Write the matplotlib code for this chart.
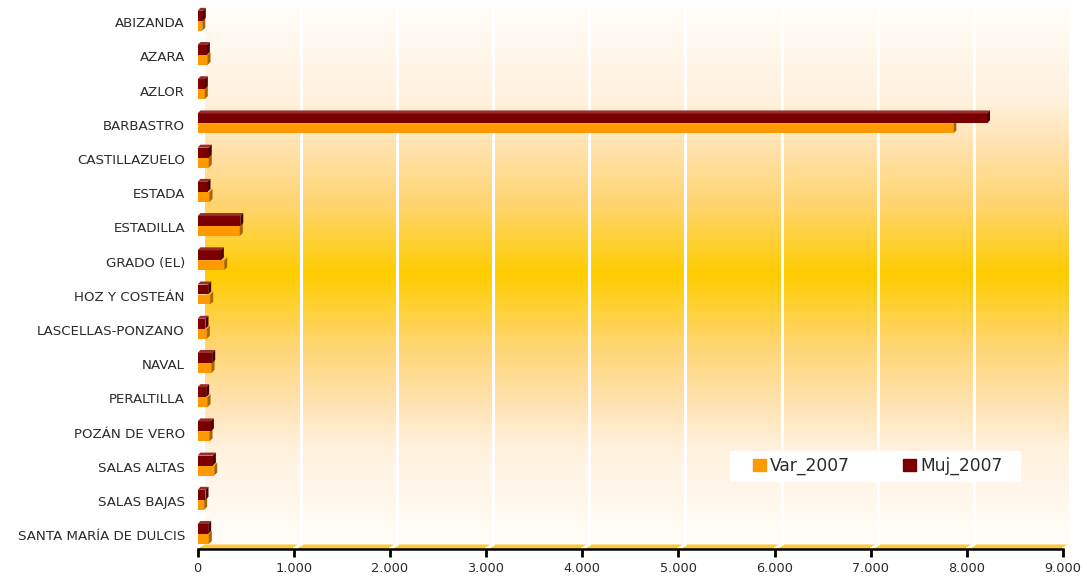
import numpy as np
import matplotlib
matplotlib.use("Agg")
import matplotlib.pyplot as plt
import matplotlib.patches as mpatches
from matplotlib.colors import LinearSegmentedColormap
from matplotlib.ticker import FuncFormatter

# ---------------------------------------------------------------------------
# Data
# ---------------------------------------------------------------------------
municipios = ["ABIZANDA", "AZARA", "AZLOR", "BARBASTRO", "CASTILLAZUELO",
              "ESTADA", "ESTADILLA", "GRADO (EL)", "HOZ Y COSTEÁN",
              "LASCELLAS-PONZANO", "NAVAL", "PERALTILLA", "POZÁN DE VERO",
              "SALAS ALTAS", "SALAS BAJAS", "SANTA MARÍA DE DULCIS"]
var_2007 = [50, 104, 76, 7860, 117, 125, 440, 278, 132, 97, 146, 104, 125, 174, 69, 118]
muj_2007 = [55, 97, 76, 8210, 117, 104, 445, 243, 111, 83, 153, 90, 139, 160, 83, 111]
x_ticks = list(range(0, 9001, 1000))

# ---------------------------------------------------------------------------
# Styling / geometry (pixels)
# ---------------------------------------------------------------------------
W, H, DPI = 1087, 585, 100
AX_L, AX_R, AX_T, AX_B = 197.5, 1063, 5, 549
XMAX = 9000
YLIM = (15.4, -0.5)
BAR_H = 0.29

VAR_C = {"front": "#FF9900", "side": "#A86400", "top": "#FFB84D"}
MUJ_C = {"front": "#7A0000", "side": "#470000", "top": "#9C2A2A"}
TEXT_C = "#2b2b2b"

px_x = XMAX / (AX_R - AX_L)                   # data units per px (x)
px_y = (YLIM[0] - YLIM[1]) / (AX_B - AX_T)     # categories per px (y)


def _bar3d(ax, y, width, colours, depth=3):
    dx, dy = depth * px_x, depth * px_y
    yt, yb = y - BAR_H / 2, y + BAR_H / 2
    ax.barh(y, width, height=BAR_H, color=colours["front"], zorder=4)
    top = [(0, yt), (width, yt), (width + dx, yt - dy), (dx, yt - dy)]
    side = [(width, yt), (width, yb), (width + dx, yb - dy), (width + dx, yt - dy)]
    ax.add_patch(mpatches.Polygon(top, closed=True, color=colours["top"], zorder=4, lw=0))
    ax.add_patch(mpatches.Polygon(side, closed=True, color=colours["side"], zorder=4, lw=0))


fig = plt.figure(figsize=(W / DPI, H / DPI), dpi=DPI)
ax = fig.add_axes([AX_L / W, 1 - AX_B / H, (AX_R - AX_L) / W, (AX_B - AX_T) / H])
ax.set_xlim(0, XMAX)
ax.set_ylim(*YLIM)
ax.patch.set_visible(False)

# back wall with vertical gradient (pale -> gold -> pale)
wall_dx, wall_dy = 7 * px_x, 4.5 * px_y
wall_cmap = LinearSegmentedColormap.from_list(
    "wall", [(0.0, "#FFFDFA"), (0.18, "#FFF1DC"), (0.26, "#FFE2B0"),
             (0.37, "#FFD570"), (0.5, "#FFCC00"), (0.63, "#FFD570"),
             (0.74, "#FFE2B0"), (0.82, "#FFF1DC"), (1.0, "#FFFDFA")])
grad = np.linspace(0, 1, 512).reshape(-1, 1)
ax.imshow(grad, cmap=wall_cmap, aspect="auto", interpolation="bilinear",
          extent=(wall_dx, XMAX + wall_dx, YLIM[0] - wall_dy, YLIM[1]),
          zorder=0, clip_on=False)

# floor strip
floor = [(0, YLIM[0]), (XMAX, YLIM[0]), (XMAX + wall_dx, YLIM[0] - wall_dy),
         (wall_dx, YLIM[0] - wall_dy)]
ax.add_patch(mpatches.Polygon(floor, closed=True, color="#FFC933", lw=0,
                              zorder=1, clip_on=False))

# gridlines on wall and floor
for t in x_ticks[1:]:
    ax.plot([t, t + wall_dx], [YLIM[0], YLIM[0] - wall_dy], color="white",
            lw=2.2, zorder=2, clip_on=False, solid_capstyle="butt")
    ax.plot([t + wall_dx, t + wall_dx], [YLIM[0] - wall_dy, YLIM[1]],
            color="white", lw=2.2, zorder=2, clip_on=False, solid_capstyle="butt")

# bars
for i in range(len(municipios)):
    _bar3d(ax, i + 0.107, var_2007[i], VAR_C)
    _bar3d(ax, i - 0.185, muj_2007[i], MUJ_C)

# axes
for s in ["left", "right", "top"]:
    ax.spines[s].set_visible(False)
ax.spines["bottom"].set_linewidth(1.8)
ax.spines["bottom"].set_zorder(5)
ax.set_xticks(x_ticks)
ax.xaxis.set_major_formatter(FuncFormatter(lambda v, p: f"{int(v):,}".replace(",", ".")))
ax.tick_params(axis="x", length=6, width=2, labelsize=9.3, labelcolor=TEXT_C, pad=3)
ax.set_yticks(range(len(municipios)))
ax.set_yticklabels(municipios)
ax.tick_params(axis="y", length=0, labelsize=9.6, labelcolor=TEXT_C, pad=9)

# legend: white box + frameless legend
fig.patches.append(mpatches.Rectangle((730 / W, 1 - 481 / H), 290 / W, 30 / H,
                                      transform=fig.transFigure, color="white",
                                      zorder=5))
handles = [mpatches.Patch(color=VAR_C["front"], label="Var_2007"),
           mpatches.Patch(color=MUJ_C["front"], label="Muj_2007")]
leg = fig.legend(handles=handles, ncol=2, loc="center",
                 bbox_to_anchor=(878 / W, 1 - 466 / H), bbox_transform=fig.transFigure,
                 fontsize=12.3, frameon=False, handlelength=0.75, handleheight=0.75,
                 handletextpad=0.25, columnspacing=3.1, borderaxespad=0)
for txt in leg.get_texts():
    txt.set_color(TEXT_C)
leg.set_zorder(6)

fig.savefig("out.png", dpi=DPI)
